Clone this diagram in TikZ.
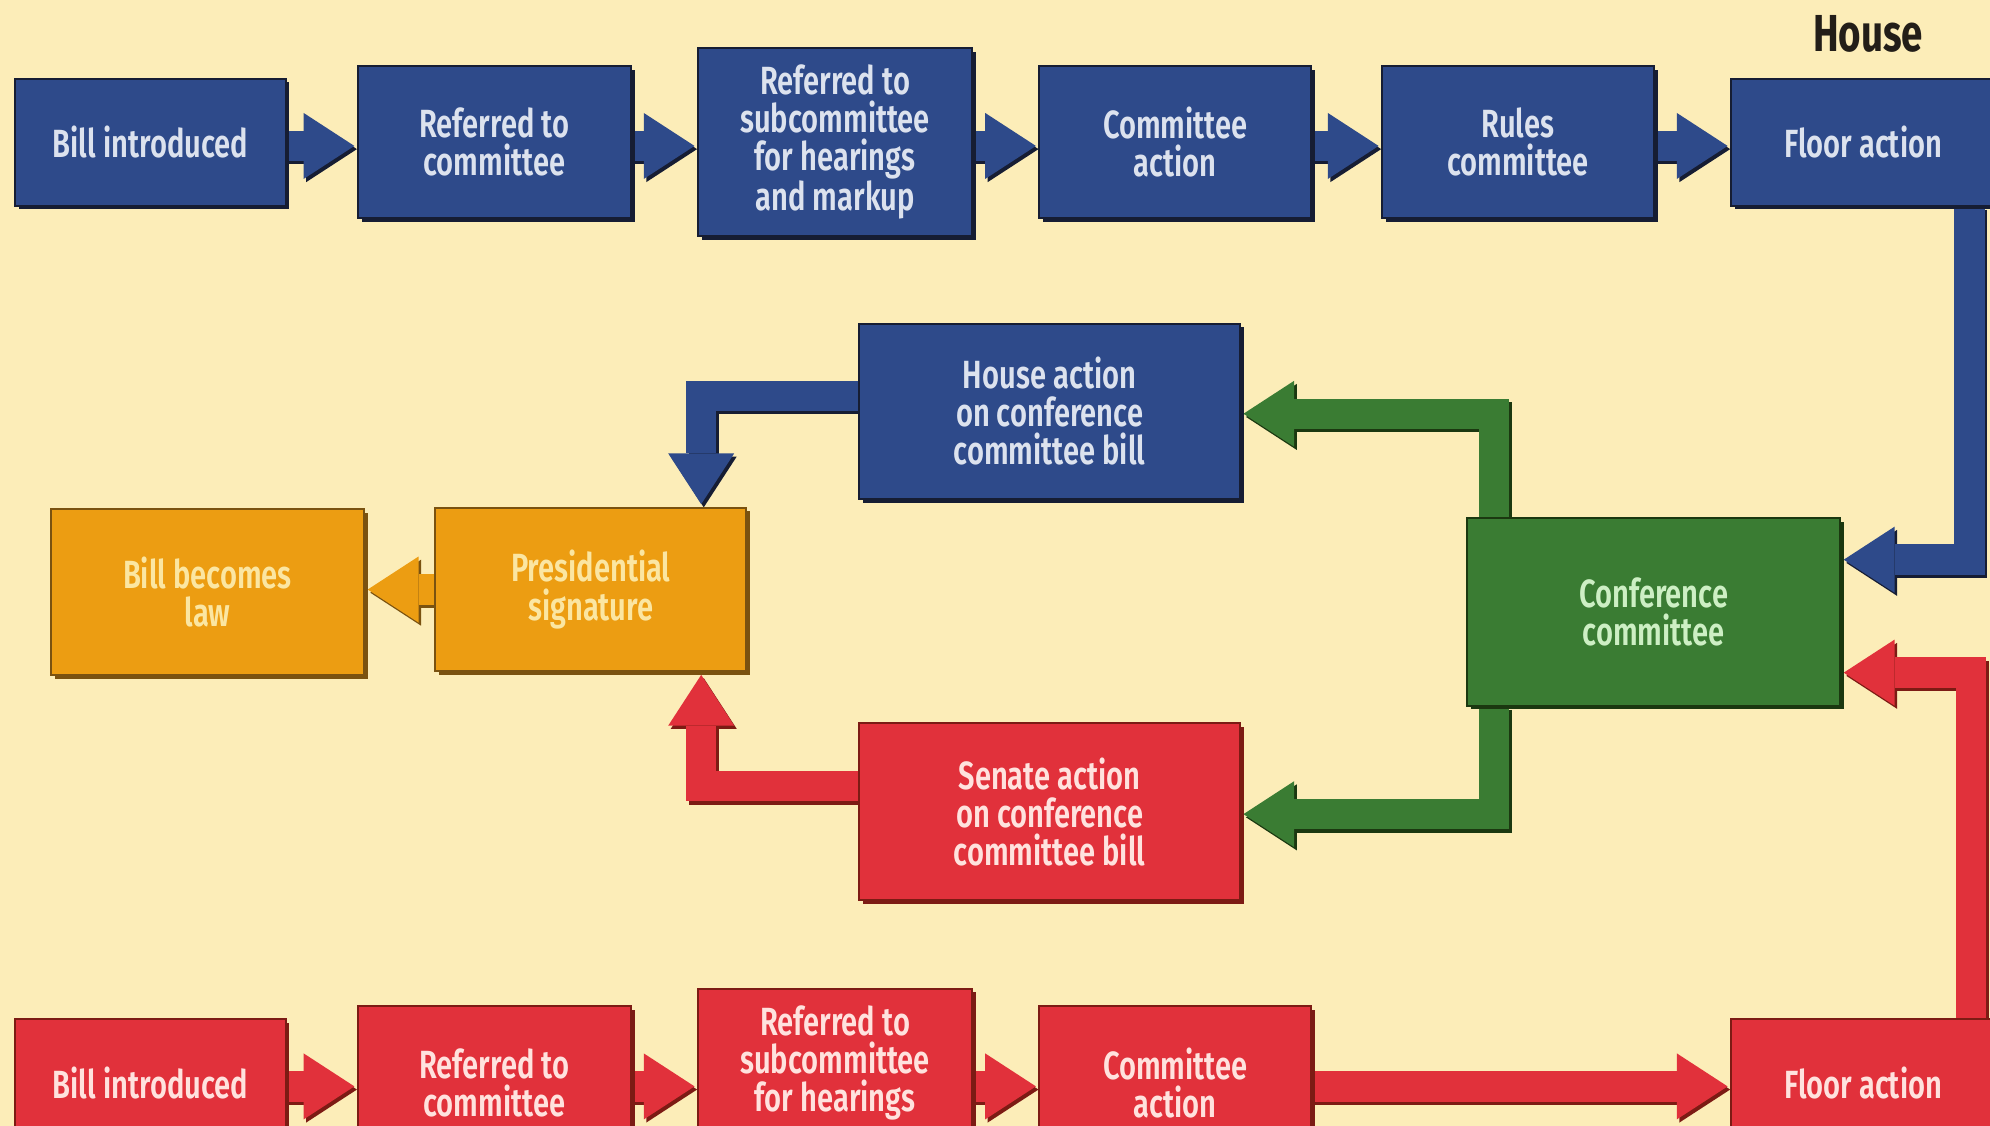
\documentclass[tikz,border=0pt]{standalone}
\usepackage{fontspec}
\setmainfont{Fira Sans}[FakeStretch=0.74, UprightFont=* SemiBold, BoldFont=* Bold]
\usetikzlibrary{arrows.meta,shadows}
\definecolor{bg}{HTML}{FCEDB8}
\definecolor{bfill}{HTML}{2E4A8A}
\definecolor{bdark}{HTML}{161D33}
\definecolor{btext}{HTML}{DCE2EE}
\definecolor{rfill}{HTML}{E1313B}
\definecolor{rdark}{HTML}{7C1B14}
\definecolor{rtext}{HTML}{FFE2DE}
\definecolor{gfill}{HTML}{3A7C33}
\definecolor{gdark}{HTML}{1B3810}
\definecolor{gtext}{HTML}{CDEFC4}
\definecolor{ofill}{HTML}{EC9D12}
\definecolor{odark}{HTML}{7A5210}
\definecolor{otext}{HTML}{FBE6A2}
\definecolor{housec}{HTML}{231E18}
\newcommand{\boxfont}{\fontsize{31}{30}\selectfont}
\newcommand{\flow}[3]{%
  \draw[conn,draw=#2,transform canvas={shift={(2pt,-2.5pt)}}] #3;
  \draw[conn,draw=#1] #3;}
\pgfdeclarelayer{bglayer}
\pgfdeclarelayer{arrlayer}
\pgfsetlayers{bglayer,arrlayer,main}
\tikzset{
  boxbase/.style={rectangle, inner sep=0pt, align=center, line width=1.5pt, font=\boxfont},
  bluebox/.style={boxbase, fill=bfill, draw=bdark, text=btext,
    drop shadow={shadow xshift=3pt,shadow yshift=-3pt,fill=bdark,opacity=1}},
  redbox/.style={boxbase, fill=rfill, draw=rdark, text=rtext,
    drop shadow={shadow xshift=3pt,shadow yshift=-3pt,fill=rdark,opacity=1}},
  greenbox/.style={boxbase, fill=gfill, draw=gdark, text=gtext,
    drop shadow={shadow xshift=3pt,shadow yshift=-3pt,fill=gdark,opacity=1}},
  orangebox/.style={boxbase, fill=ofill, draw=odark, text=otext,
    drop shadow={shadow xshift=3pt,shadow yshift=-3pt,fill=odark,opacity=1}},
  conn/.style={line width=24pt, line join=miter,
    -{Triangle[width=52pt 0 0,length=40pt 0 0,line width=0pt]}, shorten >=2pt},
}
\begin{document}
\begin{tikzpicture}[x=1pt,y=-1pt]
\useasboundingbox (0,0) rectangle (1568,887);
\begin{pgfonlayer}{bglayer}
\fill[bg] (0,0) rectangle (1568,887);
\end{pgfonlayer}

% House row
\node[font=\fontsize{41}{41}\selectfont\bfseries, text=housec] (house) at (1472,27) {House};
\node[bluebox, minimum width=213pt, minimum height=100pt] (b1) at (118.5,112) {Bill introduced};
\node[bluebox, minimum width=215pt, minimum height=120pt] (b2) at (389.5,112) {Referred to\\committee};
\node[bluebox, minimum width=216pt, minimum height=148pt] (b3) at (658,112) {Referred to\\subcommittee\\for hearings\\and markup};
\node[bluebox, minimum width=214pt, minimum height=120pt] (b4) at (926,112) {Committee\\action};
\node[bluebox, minimum width=214pt, minimum height=120pt] (b5) at (1196,112) {Rules\\committee};
\node[bluebox, minimum width=208pt, minimum height=100pt] (b6) at (1468,112) {Floor action};

% middle
\node[bluebox, minimum width=300pt, minimum height=138pt] (hac) at (827,324) {House action\\on conference\\committee bill};
\node[redbox, minimum width=300pt, minimum height=139pt] (sac) at (827,639.5) {Senate action\\on conference\\committee bill};
\node[greenbox, minimum width=294pt, minimum height=148pt] (cc) at (1303,482) {Conference\\committee};
\node[orangebox, minimum width=245pt, minimum height=129pt] (ps) at (465.5,464.5) {Presidential\\signature};
\node[orangebox, minimum width=247pt, minimum height=131pt] (bl) at (163.5,466.5) {Bill becomes\\law};

% Senate row
\node[redbox, minimum width=213pt, minimum height=100pt] (r1) at (118.5,853) {Bill introduced};
\node[redbox, minimum width=215pt, minimum height=120pt] (r2) at (389.5,853) {Referred to\\committee};
\node[redbox, minimum width=216pt, minimum height=148pt] (r3) at (658,853) {Referred to\\subcommittee\\for hearings\\\phantom{and markup}};
\node[redbox, minimum width=214pt, minimum height=120pt] (r4) at (926,853) {Committee\\action};
\node[redbox, minimum width=208pt, minimum height=100pt] (r6) at (1468,853) {Floor action};

\begin{pgfonlayer}{arrlayer}
\flow{bfill}{bdark}{([yshift=-3pt]b1.east) -- ([yshift=-3pt]b1.east -| b2.west)}
\flow{bfill}{bdark}{([yshift=-3pt]b2.east) -- ([yshift=-3pt]b2.east -| b3.west)}
\flow{bfill}{bdark}{([yshift=-3pt]b3.east) -- ([yshift=-3pt]b3.east -| b4.west)}
\flow{bfill}{bdark}{([yshift=-3pt]b4.east) -- ([yshift=-3pt]b4.east -| b5.west)}
\flow{bfill}{bdark}{([yshift=-3pt]b5.east) -- ([yshift=-3pt]b5.east -| b6.west)}
\flow{bfill}{bdark}{([xshift=84pt]b6.south) |- ([yshift=41pt]cc.east)}
\flow{rfill}{rdark}{([xshift=85pt]r6.north) |- ([yshift=-48pt]cc.east)}
\flow{gfill}{gdark}{([xshift=-126pt]cc.north) |- ([yshift=-2pt]hac.east)}
\flow{gfill}{gdark}{([xshift=-126pt]cc.south) |- ([yshift=-2pt]sac.east)}
\flow{bfill}{bdark}{([yshift=12pt]hac.west) -| ([xshift=87pt]ps.north)}
\flow{rfill}{rdark}{([yshift=20pt]sac.west) -| ([xshift=87pt]ps.south)}
\flow{ofill}{odark}{(ps.west) -- (ps.west -| bl.east)}
\flow{rfill}{rdark}{([yshift=-3pt]r1.east) -- ([yshift=-3pt]r1.east -| r2.west)}
\flow{rfill}{rdark}{([yshift=-3pt]r2.east) -- ([yshift=-3pt]r2.east -| r3.west)}
\flow{rfill}{rdark}{([yshift=-3pt]r3.east) -- ([yshift=-3pt]r3.east -| r4.west)}
\flow{rfill}{rdark}{([yshift=-3pt]r4.east) -- ([yshift=-3pt]r4.east -| r6.west)}
\end{pgfonlayer}
\end{tikzpicture}
\end{document}
